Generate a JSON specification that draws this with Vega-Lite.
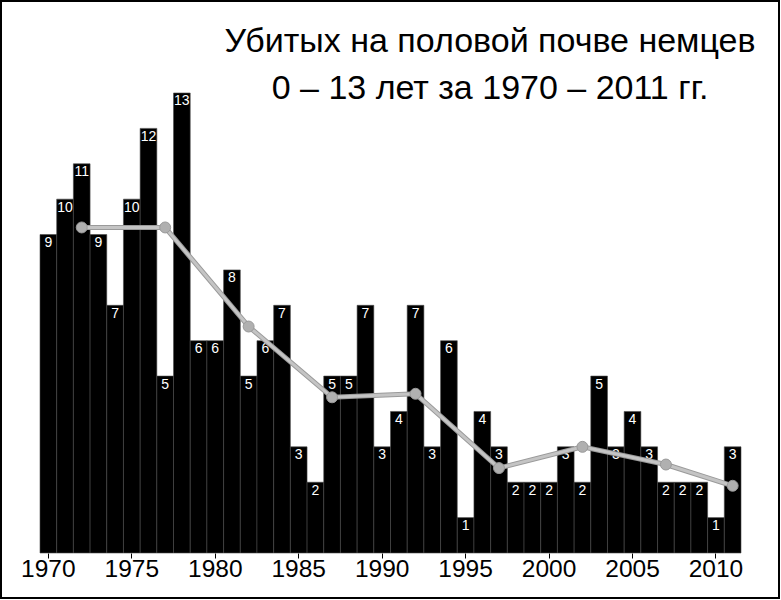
{
  "$schema": "https://vega.github.io/schema/vega-lite/v6.json",
  "width": 778,
  "height": 597,
  "autosize": "none",
  "padding": {"left": 1, "top": 1, "right": 2, "bottom": 2},
  "background": "white",
  "config": {
    "view": {"stroke": "black", "strokeWidth": 2},
    "font": "Liberation Sans"
  },
  "title": {
    "text": ["Убитых на половой почве немцев", "0 – 13 лет за 1970 – 2011 гг."],
    "font": "Liberation Sans",
    "fontSize": 34,
    "fontWeight": "normal",
    "color": "black",
    "anchor": "start",
    "align": "center",
    "frame": "group",
    "baseline": "top",
    "lineHeight": 47,
    "offset": 0,
    "dx": 489,
    "dy": 105
  },
  "datasets": {
    "bars": [
      {"year": 1970, "count": 9}, {"year": 1971, "count": 10}, {"year": 1972, "count": 11},
      {"year": 1973, "count": 9}, {"year": 1974, "count": 7}, {"year": 1975, "count": 10},
      {"year": 1976, "count": 12}, {"year": 1977, "count": 5}, {"year": 1978, "count": 13},
      {"year": 1979, "count": 6}, {"year": 1980, "count": 6}, {"year": 1981, "count": 8},
      {"year": 1982, "count": 5}, {"year": 1983, "count": 6}, {"year": 1984, "count": 7},
      {"year": 1985, "count": 3}, {"year": 1986, "count": 2}, {"year": 1987, "count": 5},
      {"year": 1988, "count": 5}, {"year": 1989, "count": 7}, {"year": 1990, "count": 3},
      {"year": 1991, "count": 4}, {"year": 1992, "count": 7}, {"year": 1993, "count": 3},
      {"year": 1994, "count": 6}, {"year": 1995, "count": 1}, {"year": 1996, "count": 4},
      {"year": 1997, "count": 3}, {"year": 1998, "count": 2}, {"year": 1999, "count": 2},
      {"year": 2000, "count": 2}, {"year": 2001, "count": 3}, {"year": 2002, "count": 2},
      {"year": 2003, "count": 5}, {"year": 2004, "count": 3}, {"year": 2005, "count": 4},
      {"year": 2006, "count": 3}, {"year": 2007, "count": 2}, {"year": 2008, "count": 2},
      {"year": 2009, "count": 2}, {"year": 2010, "count": 1}, {"year": 2011, "count": 3}
    ],
    "avg": [
      {"year": 1972, "avg": 9.2}, {"year": 1977, "avg": 9.2}, {"year": 1982, "avg": 6.4},
      {"year": 1987, "avg": 4.4}, {"year": 1992, "avg": 4.5}, {"year": 1997, "avg": 2.4},
      {"year": 2002, "avg": 3.0}, {"year": 2007, "avg": 2.5}, {"year": 2011, "avg": 1.9}
    ]
  },
  "encoding": {
    "x": {
      "field": "year",
      "type": "ordinal",
      "sort": "ascending",
      "scale": {"paddingInner": 0, "paddingOuter": 0, "range": [39, 740]},
      "axis": {
        "values": [1970, 1975, 1980, 1985, 1990, 1995, 2000, 2005, 2010],
        "title": null,
        "orient": "bottom",
        "offset": -45,
        "domain": false,
        "ticks": true,
        "tickSize": 5,
        "tickColor": "black",
        "tickWidth": 1,
        "labelAngle": 0,
        "labelFontSize": 24.5,
        "labelFont": "Liberation Sans",
        "labelColor": "black",
        "labelPadding": -1,
        "grid": false
      }
    }
  },
  "layer": [
    {
      "data": {"name": "bars"},
      "mark": {"type": "bar", "color": "black", "stroke": "#4a4a4a", "strokeWidth": 0.6},
      "encoding": {
        "y": {
          "field": "count",
          "type": "quantitative",
          "scale": {"domain": [-1.272, 15.6], "nice": false, "zero": false},
          "axis": null
        },
        "y2": {"datum": 0}
      }
    },
    {
      "data": {"name": "bars"},
      "mark": {"type": "text", "color": "white", "fontSize": 14, "baseline": "top", "dy": 1.5, "font": "Liberation Sans"},
      "encoding": {
        "y": {"field": "count", "type": "quantitative"},
        "text": {"field": "count", "type": "quantitative"}
      }
    },
    {
      "data": {"name": "avg"},
      "mark": {"type": "line", "color": "#9a9a9a", "strokeWidth": 5},
      "encoding": {
        "y": {"field": "avg", "type": "quantitative"}
      }
    },
    {
      "data": {"name": "avg"},
      "mark": {"type": "line", "color": "#c4c4c4", "strokeWidth": 3},
      "encoding": {
        "y": {"field": "avg", "type": "quantitative"}
      }
    },
    {
      "data": {"name": "avg"},
      "mark": {"type": "point", "shape": "circle", "filled": true, "size": 120, "color": "#b0b0b0", "stroke": "#999999", "strokeWidth": 1, "opacity": 1},
      "encoding": {
        "y": {"field": "avg", "type": "quantitative"}
      }
    }
  ]
}
